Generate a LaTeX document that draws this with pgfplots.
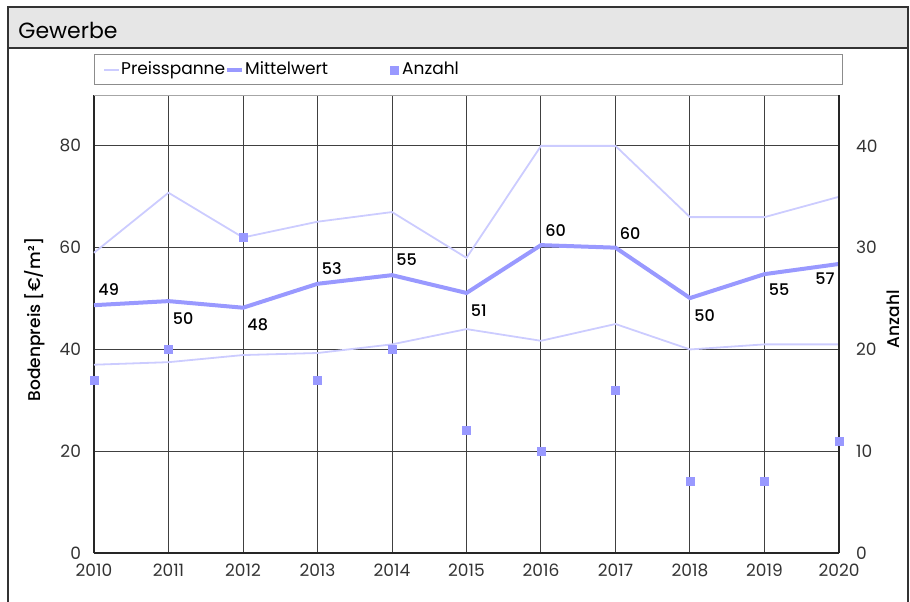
\documentclass[border=0pt]{standalone}
\usepackage{pgfplots}
\pgfplotsset{compat=1.18}
\usepackage{fontspec}
\setmainfont{Poppins}[BoldFont={Poppins Medium}]
\definecolor{mittel}{RGB}{153,153,255}
\definecolor{spanne}{RGB}{204,204,255}
\definecolor{titlebg}{RGB}{230,230,230}

\pgfplotsset{
    linelegend/.style={legend image code/.code={\draw[##1] (0pt,0pt) -- (7.5pt,0pt);}},
    marklegend/.style={legend image code/.code={\draw[##1] plot coordinates {(3.5pt,0pt)};}},
}

\pgfplotstableread{
jahr oben unten mittel anzahl
2010 59.0 37.0 48.7 17
2011 70.8 37.5 49.5 20
2012 62.0 38.9 48.2 31
2013 65.1 39.3 52.9 17
2014 67.0 41.0 54.6 20
2015 58.0 44.0 51.1 12
2016 80.0 41.7 60.5 10
2017 80.0 45.0 60.0 16
2018 66.0 40.0 50.1 7
2019 66.0 41.0 54.8 7
2020 70.0 41.0 56.8 11
}\daten

\begin{document}
\begin{tikzpicture}[font=\fontsize{8.5}{10}\selectfont]
\useasboundingbox (0,0) rectangle (455pt,300.5pt);
% Rahmen und Titelzeile
\fill[titlebg] (4pt,276.5pt) rectangle (454pt,297pt);
\draw[black!80, line width=0.6pt] (4pt,-1pt) -- (4pt,297pt) -- (454pt,297pt) -- (454pt,-1pt);
\draw[black!80, line width=0.6pt] (4pt,276.5pt) -- (454pt,276.5pt);
\node[anchor=base west, inner sep=0pt, font=\fontsize{11}{13}\selectfont] at (9pt,281pt) {Gewerbe};
% Legendenrahmen
\draw[black!45, line width=0.5pt] (47pt,258pt) rectangle (421pt,273pt);

\begin{axis}[
    at={(47pt,24pt)}, anchor=south west,
    scale only axis, width=372.5pt, height=229pt,
    xmin=2010, xmax=2020, ymin=0, ymax=90,
    xtick={2010,2011,...,2020}, ytick={0,20,...,80},
    axis x line*=bottom, axis y line*=left,
    axis line style={black!85, line width=0.6pt},
    major tick length=0pt,
    grid=major, major grid style={black!75, line width=0.5pt},
    /pgf/number format/assume math mode=true,
    /pgf/number format/1000 sep={},
    tick label style={black!80},
    yticklabel style={xshift=-3pt},
    xticklabel style={yshift=-2pt},
    ylabel={\bfseries Bodenpreis [€/m²]},
    ylabel style={at={(axis description cs:-0.079,0.51)}, anchor=center},
    clip=false,
    legend columns=3,
    legend style={at={(axis description cs:0.0121,1.0546)}, anchor=west,
        draw=none, fill=none, inner sep=0pt,
        nodes={inner sep=0.5pt, anchor=west},
        font=\fontsize{8.5}{10}\selectfont},
]
\addplot[spanne, line width=0.9pt, linelegend]
    table[x=jahr, y=oben] {\daten};
\addlegendentry{\makebox[51.5pt][l]{Preisspanne}}
\addplot[spanne, line width=0.9pt, forget plot] table[x=jahr, y=unten] {\daten};
\addplot[mittel, line width=2pt, linelegend]
    table[x=jahr, y=mittel] {\daten};
\addlegendentry{\makebox[72pt][l]{Mittelwert}}
\addlegendimage{only marks, mark=square*, mark size=2pt, mittel, marklegend}
\addlegendentry{\hspace{1.5pt}Anzahl}
\draw[black!35, line width=0.5pt] (rel axis cs:0,1) -- (rel axis cs:1,1);
% Beschriftung der Mittelwerte
\begin{scope}[every node/.style={inner sep=1pt, font=\fontsize{8}{9}\selectfont\bfseries}]
\node[anchor=south west, xshift=1pt, yshift=3.5pt] at (axis cs:2010,48.7) {49};
\node[anchor=north west, xshift=1pt, yshift=-4.5pt] at (axis cs:2011,49.5) {50};
\node[anchor=north west, xshift=1pt, yshift=-4.5pt] at (axis cs:2012,48.2) {48};
\node[anchor=south west, xshift=1pt, yshift=3.5pt] at (axis cs:2013,52.9) {53};
\node[anchor=south west, xshift=1pt, yshift=3.5pt] at (axis cs:2014,54.6) {55};
\node[anchor=north west, xshift=1pt, yshift=-4.5pt] at (axis cs:2015,51.1) {51};
\node[anchor=south west, xshift=1pt, yshift=3pt] at (axis cs:2016,60.5) {60};
\node[anchor=south west, xshift=1pt, yshift=3pt] at (axis cs:2017,60.0) {60};
\node[anchor=north west, xshift=1pt, yshift=-4.5pt] at (axis cs:2018,50.1) {50};
\node[anchor=north west, xshift=1pt, yshift=-3.5pt] at (axis cs:2019,54.8) {55};
\node[anchor=north east, xshift=-1pt, yshift=-3.25pt] at (axis cs:2020,56.8) {57};
\end{scope}
\end{axis}

\begin{axis}[
    at={(47pt,24pt)}, anchor=south west,
    scale only axis, width=372.5pt, height=229pt,
    xmin=2010, xmax=2020, ymin=0, ymax=45,
    ytick={0,10,...,40},
    axis x line=none, axis y line*=right,
    axis line style={black!85, line width=0.6pt},
    major tick length=0pt,
    /pgf/number format/assume math mode=true,
    tick label style={black!80},
    yticklabel style={xshift=5pt},
    ylabel={\bfseries Anzahl},
    ylabel style={at={(axis description cs:1.0725,0.51)}, anchor=center},
    clip=false,
]
\addplot[only marks, mark=square*, mark size=2pt, mittel]
    table[x=jahr, y=anzahl] {\daten};
\end{axis}
\end{tikzpicture}
\end{document}
